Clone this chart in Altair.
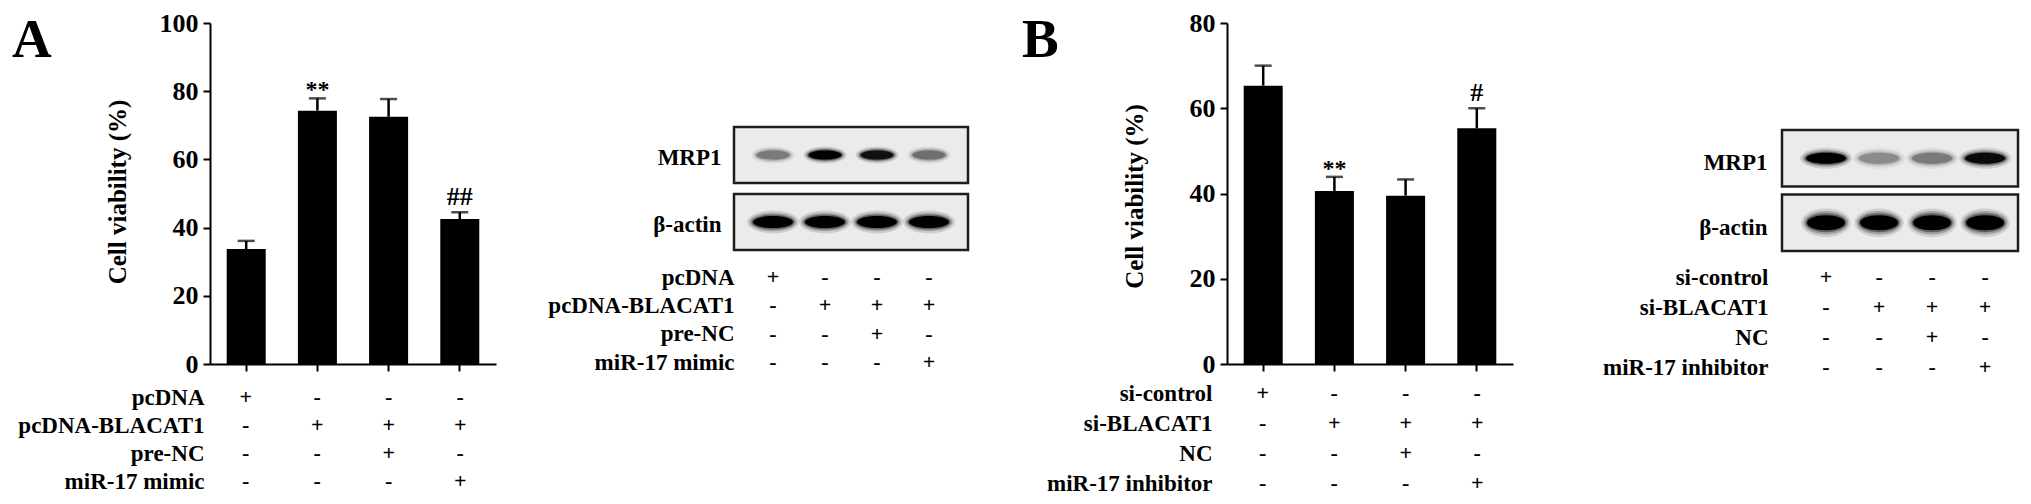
import altair as alt
import pandas as pd

FONT = "Liberation Serif"
W, H = 2015, 488

# ---------------- data ----------------
a_groups = ["pcDNA", "pcDNA-BLACAT1", "pcDNA-BLACAT1 + pre-NC", "pcDNA-BLACAT1 + miR-17 mimic"]
a_values = [33.7, 74.3, 72.5, 42.5]
a_errors = [2.4, 3.6, 5.2, 2.0]
a_marks = ["", "**", "", "##"]
a_rows = ["pcDNA", "pcDNA-BLACAT1", "pre-NC", "miR-17 mimic"]
a_signs = [
    ["+", "-", "-", "-"],
    ["-", "+", "+", "+"],
    ["-", "-", "+", "-"],
    ["-", "-", "-", "+"],
]
a_mrp1 = [0.45, 1.0, 0.95, 0.5]
a_actin = [1.0, 1.0, 1.0, 1.0]

b_groups = ["si-control", "si-BLACAT1", "si-BLACAT1 + NC", "si-BLACAT1 + miR-17 inhibitor"]
b_values = [65.3, 40.6, 39.5, 55.3]
b_errors = [4.7, 3.3, 3.8, 4.7]
b_marks = ["", "**", "", "#"]
b_rows = ["si-control", "si-BLACAT1", "NC", "miR-17 inhibitor"]
b_signs = [
    ["+", "-", "-", "-"],
    ["-", "+", "+", "+"],
    ["-", "-", "+", "-"],
    ["-", "-", "-", "+"],
]
b_mrp1 = [1.0, 0.38, 0.45, 0.97]
b_actin = [1.0, 1.0, 1.0, 1.0]

lanes = [1, 2, 3, 4]
proteins = ["MRP1", "β-actin"]

TXT = dict(font=FONT, fontWeight="bold", color="black")


def ellipse(r):
    return f"M -1 0 A 1 {r} 0 1 0 1 0 A 1 {r} 0 1 0 -1 0 Z"


def bar_panel(groups, values, errors, marks, ymax, xr, yr, title_y):
    df = pd.DataFrame({
        "group": groups,
        "value": values,
        "upper": [v + e for v, e in zip(values, errors)],
        "mark": marks,
    })
    xs = alt.Scale(domain=groups, range=xr, paddingInner=0.452, paddingOuter=0.2345)
    ys = alt.Scale(domain=[0, ymax], range=yr, nice=False, zero=True)
    x_axis = alt.Axis(orient="bottom", offset=yr[0] - H, labels=False, tickSize=7,
                      tickWidth=2, tickColor="black", domainColor="black", domainWidth=2,
                      title=None, grid=False)
    y_axis = alt.Axis(orient="left", offset=-xr[0], values=list(range(0, ymax + 1, 20)),
                      tickSize=7, tickWidth=2, tickColor="black", domainColor="black",
                      domainWidth=2, labelFont=FONT, labelFontWeight="bold", labelFontSize=26,
                      labelColor="black", labelPadding=5, labelFlush=False, labelLimit=400,
                      grid=False, title="Cell viability (%)", titleFont=FONT,
                      titleFontWeight="bold", titleFontSize=25, titleColor="black",
                      titleAngle=270, titleAlign="center", titleBaseline="middle",
                      titleX=-93, titleY=title_y, titleLimit=500)
    X = alt.X("group:N", scale=xs, axis=x_axis)
    base = alt.Chart(df)
    bars = base.mark_bar(color="black").encode(
        x=X, y=alt.Y("value:Q", scale=ys, axis=y_axis))
    rule = base.mark_rule(color="black", strokeWidth=2.5).encode(
        x=X, y=alt.Y("value:Q", scale=ys, axis=y_axis), y2="upper:Q")
    cap = base.mark_tick(color="black", thickness=2.5, size=17).encode(
        x=X, y=alt.Y("upper:Q", scale=ys, axis=y_axis))
    stars = base.transform_filter("indexof(datum.mark, '*') >= 0").mark_text(
        fontSize=24, baseline="alphabetic", dy=-1, **TXT).encode(
        x=X, y=alt.Y("upper:Q", scale=ys, axis=y_axis), text="mark:N")
    hashes = base.transform_filter("indexof(datum.mark, '#') >= 0").mark_text(
        fontSize=26, baseline="alphabetic", dy=-7, **TXT).encode(
        x=X, y=alt.Y("upper:Q", scale=ys, axis=y_axis), text="mark:N")
    return alt.layer(bars, rule, cap, stars, hashes), xs


def sign_panel(cols, col_type, xs, rows, signs, yr, label_right):
    recs = []
    for i, r in enumerate(rows):
        for j, c in enumerate(cols):
            recs.append({"col": c, "row": r, "sign": signs[i][j]})
    df = pd.DataFrame(recs)
    ys = alt.Scale(type="point", domain=rows, range=yr, padding=0)
    y_axis = alt.Axis(orient="left", offset=-label_right, domain=False, ticks=False,
                      labelPadding=0, labelFont=FONT, labelFontWeight="bold",
                      labelFontSize=23, labelColor="black", labelLimit=400,
                      labelAlign="right", labelBaseline="middle", title=None, grid=False)
    return alt.Chart(df).mark_text(fontSize=22, baseline="middle", **TXT).encode(
        x=alt.X(f"col:{col_type}", scale=xs, axis=None),
        y=alt.Y("row:N", scale=ys, axis=y_axis),
        text="sign:N",
    )


# soft-edged band: stacked ellipses (width factor, height factor, opacity)
BAND_LAYERS = [(1.30, 1.9, 0.12), (1.18, 1.55, 0.22), (1.08, 1.25, 0.4), (1.0, 1.0, 1.0)]


def blot_panel(mrp1, actin, xs, xdom, xr, yr, pad_inner, label_pad, label_off, sizes):
    ys = alt.Scale(domain=proteins, range=yr, paddingInner=pad_inner, paddingOuter=0)
    y_axis = alt.Axis(orient="left", offset=-xr[0], domain=False, ticks=False,
                      labelPadding=label_pad, labelOffset=label_off, labelFont=FONT,
                      labelFontWeight="bold", labelFontSize=23, labelColor="black",
                      labelLimit=400, title=None, grid=False)
    cs = alt.Scale(domain=[0, 1], range=["#ebebeb", "#000000"])
    box = alt.Chart(pd.DataFrame({"protein": proteins})).mark_rect(
        fill="#ebebeb", stroke="#1e1e1e", strokeWidth=2.5).encode(
        x=alt.XDatum(xdom[0], type="quantitative", scale=xs, axis=None),
        x2=alt.X2Datum(xdom[1]),
        y=alt.Y("protein:N", scale=ys, axis=y_axis),
    )
    layers = [box]
    for prot, inten in (("MRP1", mrp1), ("β-actin", actin)):
        df = pd.DataFrame({"lane": lanes, "protein": [prot] * 4, "intensity": inten})
        w, h = sizes[prot]
        for scale_w, scale_h, op in BAND_LAYERS:
            ww, hh = w * scale_w, h * scale_h
            layers.append(alt.Chart(df).mark_point(
                shape=ellipse(round(hh / ww, 3)), size=ww * ww, filled=True,
                opacity=op, strokeWidth=0).encode(
                x=alt.X("lane:Q", scale=xs, axis=None),
                y=alt.Y("protein:N", scale=ys, axis=y_axis),
                color=alt.Color("intensity:Q", scale=cs, legend=None),
            ))
    return alt.layer(*layers)


def letter(t, x):
    return alt.Chart(pd.DataFrame({"t": [t]})).mark_text(
        fontSize=55, align="left", baseline="alphabetic", **TXT).encode(
        x=alt.value(x), y=alt.value(49), text="t:N")


# ---------------- panels ----------------
a_bar, a_xs = bar_panel(a_groups, a_values, a_errors, a_marks, 100, [202, 488], [356, 15], 183.5)
a_tab = sign_panel(a_groups, "N", a_xs, a_rows, a_signs, [389, 473], 196)

a_bxd = [0.25, 4.75]
a_bxr = [726, 960]
a_bxs = alt.Scale(domain=a_bxd, range=a_bxr, nice=False, zero=False)
a_blot = blot_panel(a_mrp1, a_actin, a_bxs, a_bxd, a_bxr, [119, 242], 0.164, 13, 3,
                    {"MRP1": (33, 9), "β-actin": (40, 12)})
a_btab = sign_panel(lanes, "Q", a_bxs, a_rows, a_signs, [269, 354], 726)

b_bar, b_xs = bar_panel(b_groups, b_values, b_errors, b_marks, 80, [1219, 1505], [356, 15], 188)
b_tab = sign_panel(b_groups, "N", b_xs, b_rows, b_signs, [385, 475], 1204)

b_bxd = [0.17, 4.62]
b_bxr = [1774, 2010]
b_bxs = alt.Scale(domain=b_bxd, range=b_bxr, nice=False, zero=False)
b_blot = blot_panel(b_mrp1, b_actin, b_bxs, b_bxd, b_bxr, [122, 243], 0.124, 15, 5,
                    {"MRP1": (40, 11), "β-actin": (38, 15)})
b_btab = sign_panel(lanes, "Q", b_bxs, b_rows, b_signs, [269, 359], 1760)

chart = alt.layer(
    a_bar, a_tab, a_blot, a_btab, letter("A", 4),
    b_bar, b_tab, b_blot, b_btab, letter("B", 1014),
).resolve_scale(
    x="independent", y="independent", color="independent"
).properties(
    width=W, height=H, padding=0, background="white",
    autosize=alt.AutoSizeParams(type="none"),
).configure_view(strokeWidth=0)

chart.save("out.html", embed_options={"renderer": "svg", "actions": False})
